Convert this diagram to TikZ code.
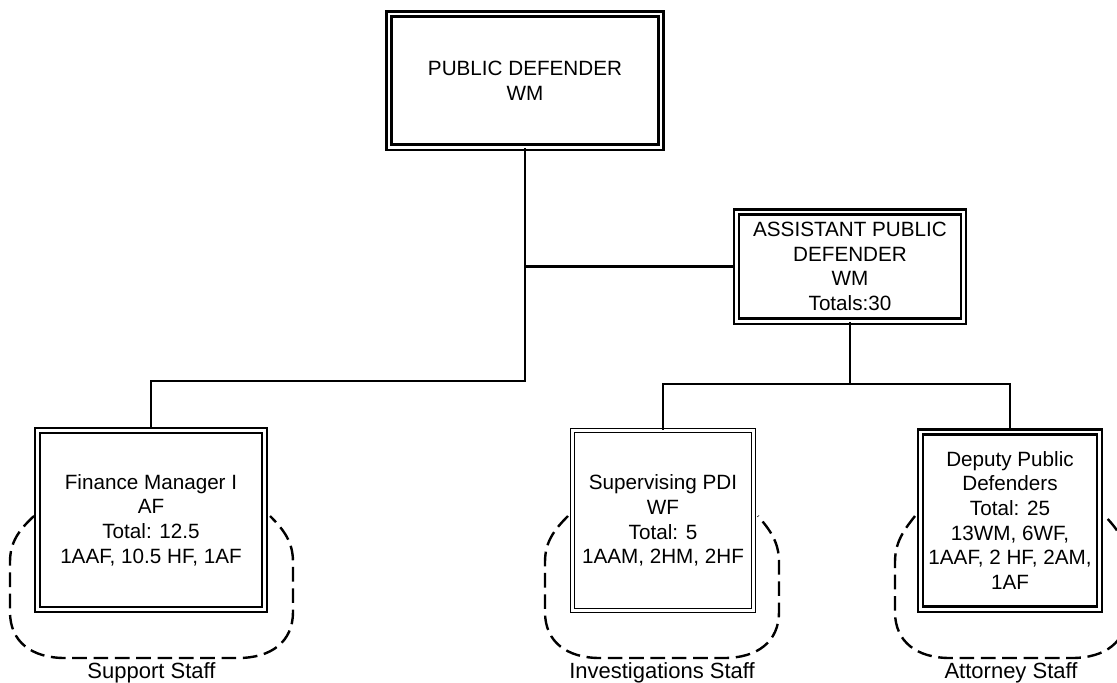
\documentclass[tikz,border=0pt]{standalone}
\usepackage{fontspec}
\setmainfont{Liberation Sans}
\usetikzlibrary{positioning}

\tikzset{
  post/.style={draw, double, line width=1.8pt, double distance=2pt,
    align=center, inner sep=2pt, font=\fontsize{15.5}{18.5}\selectfont},
  thinpost/.style={post, line width=0.8pt, double distance=2.4pt},
  link/.style={line width=1.8pt},
  staff/.style={line width=1.8pt, dash pattern=on 11pt off 5pt},
  stafflabel/.style={anchor=base, font=\fontsize{16.5}{18}\selectfont},
}

\begin{document}
\begin{tikzpicture}[x=0.75pt, y=-0.75pt]
%          PD
%            \__ APD
%   FIN      PDI   DPD
\clip (0,0) rectangle (1117,682);
%
\node[post, minimum width=204pt, minimum height=100pt] (pd) at (525,80.5)
  {PUBLIC DEFENDER\\WM};
\node[post, minimum width=170pt, minimum height=82pt] (apd) at (850,266.5)
  {ASSISTANT PUBLIC\\DEFENDER\\WM\\Totals:30};
\node[post, minimum width=170pt, minimum height=134pt] (fin) at (151,520)
  {Finance Manager I\\AF\\Total: 12.5\\1AAF, 10.5 HF, 1AF};
\node[thinpost, minimum width=136pt, minimum height=135pt] (pdi) at (663,520.5)
  {Supervising PDI\\WF\\Total: 5\\1AAM, 2HM, 2HF};
\node[post, minimum width=134pt, minimum height=133pt] (dpd) at (1010,520.5)
  {Deputy Public\\Defenders\\Total: 25\\13WM, 6WF,\\1AAF, 2 HF, 2AM,\\1AF};
%
\coordinate (lbus) at (0,381);
\coordinate (rbus) at (0,384);
\draw[link] (pd.south) |- (apd.west);
\draw[link] (pd.south) -- (pd.south |- lbus) -| (fin.north);
\draw[link] (apd.south) -- (apd.south |- rbus) -| (pdi.north);
\draw[link] (apd.south |- rbus) -| (dpd.north);
%
\newcommand{\staffloop}[6]{
  \draw[staff] (#3,516) .. controls (#1+9,530) and (#1,542) .. (#1,562)
    -- (#1,612) .. controls (#1,642) and (#1+22,658) .. (#1+55,658)
    -- (#2-55,658) .. controls (#2-22,658) and (#2,642) .. (#2,612)
    -- (#2,562) .. controls (#2,542) and (#2-9,530) .. (#4,516);
  \node[stafflabel] (#6) at ({(#1+#2)/2},678) {#5};
}
%
\staffloop{10}{293}{34}{270}{Support Staff}{sup}
\staffloop{545}{779}{568}{758}{Investigations Staff}{inv}
\staffloop{895}{1127}{915}{1105}{Attorney Staff}{att}
%
\end{tikzpicture}
\end{document}
